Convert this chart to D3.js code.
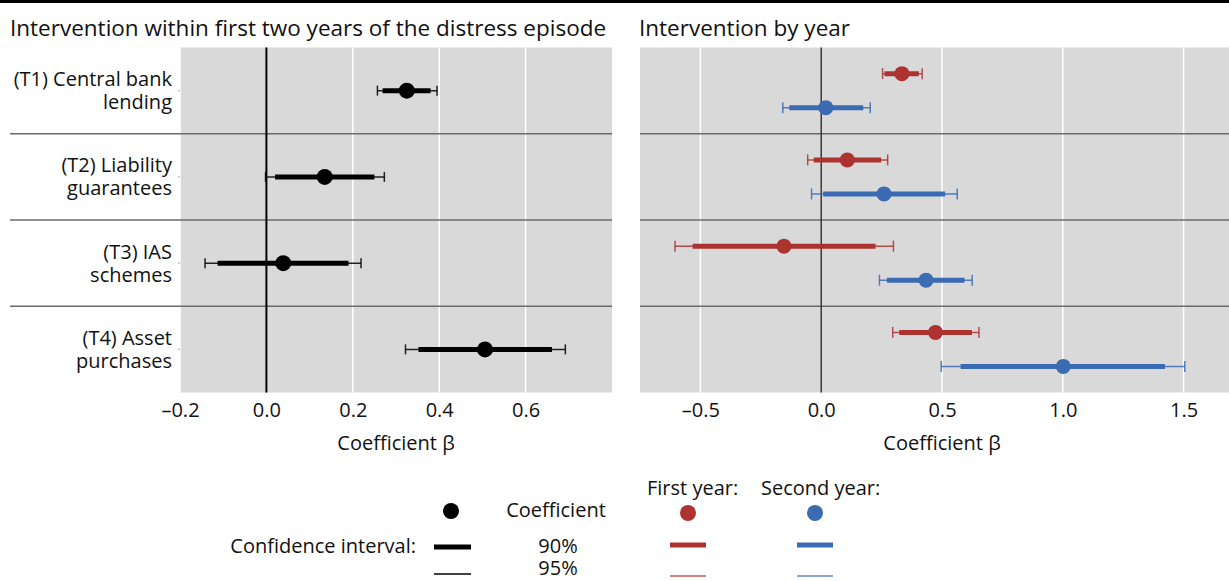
<!DOCTYPE html>
<html>
<head>
<meta charset="utf-8">
<script src="https://cdn.jsdelivr.net/npm/d3@7"></script>
<style>
  html, body { margin: 0; padding: 0; background: #fff; }
  svg { display: block; font-family: "Open Sans", "Noto Sans", sans-serif; }
</style>
</head>
<body>
<svg id="chart" width="1229" height="581"></svg>
<script>
// ---------- DATA ----------
const categories = ["T1", "T2", "T3", "T4"];
const categoryLabels = [
  ["(T1) Central bank", "lending"],
  ["(T2) Liability", "guarantees"],
  ["(T3) IAS", "schemes"],
  ["(T4) Asset", "purchases"]
];
// Left panel: intervention within first two years
const twoYearCoef = [0.325, 0.135, 0.039, 0.506];
const twoYearLo90 = [0.269, 0.020, -0.113, 0.352];
const twoYearHi90 = [0.380, 0.250, 0.190, 0.661];
const twoYearLo95 = [0.257, -0.002, -0.142, 0.322];
const twoYearHi95 = [0.395, 0.273, 0.219, 0.692];
// Right panel: first year
const firstCoef = [0.334, 0.108, -0.154, 0.473];
const firstLo90 = [0.262, -0.031, -0.532, 0.323];
const firstHi90 = [0.404, 0.248, 0.225, 0.624];
const firstLo95 = [0.254, -0.056, -0.605, 0.296];
const firstHi95 = [0.418, 0.275, 0.299, 0.653];
// Right panel: second year
const secondCoef = [0.019, 0.260, 0.434, 1.002];
const secondLo90 = [-0.132, 0.008, 0.272, 0.577];
const secondHi90 = [0.174, 0.513, 0.593, 1.423];
const secondLo95 = [-0.159, -0.040, 0.241, 0.497];
const secondHi95 = [0.203, 0.563, 0.625, 1.505];

const leftTicks = [-0.2, 0, 0.2, 0.4, 0.6];
const rightTicks = [-0.5, 0, 0.5, 1.0, 1.5];

// ---------- STYLE ----------
const RED = "#AD3331";
const BLUE = "#3B6BB2";
const PANEL_BG = "#D9D9D9";
const SEP = "#6b6b6b";
const FS = 20;

const svg = d3.select("#chart");
const plotTop = 47.5, plotBottom = 392.5;

const y = d3.scaleBand().domain(categories).range([plotTop, plotBottom]).padding(0);
const xL = d3.scaleLinear().domain([-0.2, 0.8]).range([180, 612]);
const xR = d3.scaleLinear().domain([-0.75, 1.75]).range([640, 1244]);

// top rule
svg.append("rect").attr("x", 0).attr("y", 0).attr("width", 1229).attr("height", 3).attr("fill", "#000");

// titles
svg.append("text").attr("x", 10).attr("y", 36).attr("font-size", 22.5).attr("fill", "#111")
  .text("Intervention within first two years of the distress episode");
svg.append("text").attr("x", 639).attr("y", 36).attr("font-size", 22.5).attr("fill", "#111")
  .text("Intervention by year");

const fmt = v => (v === 0 ? "0.0" : d3.format(".1f")(v).replace("−", "–").replace("-", "–"));

function panel(x, ticks) {
  const g = svg.append("g");
  const [x0, x1] = x.range();
  g.append("rect").attr("x", x0).attr("y", plotTop).attr("width", x1 - x0).attr("height", plotBottom - plotTop)
    .attr("fill", PANEL_BG);
  g.selectAll("line.grid").data(ticks.filter(t => t !== 0)).join("line")
    .attr("x1", d => x(d)).attr("x2", d => x(d)).attr("y1", plotTop).attr("y2", plotBottom)
    .attr("stroke", "#fff").attr("stroke-width", 1.5);
  const ax = g.append("g").attr("transform", `translate(0,${plotBottom})`)
    .call(d3.axisBottom(x).tickValues(ticks).tickSize(0).tickPadding(10).tickFormat(fmt));
  ax.select(".domain").remove();
  ax.selectAll("text").attr("font-size", FS).attr("fill", "#111").attr("font-family", "Open Sans");
  return g;
}

panel(xL, leftTicks);
panel(xR, rightTicks);

// row separators
const seps = categories.slice(1).map(c => y(c));
svg.selectAll("line.sepL").data(seps).join("line")
  .attr("x1", 10).attr("x2", xL.range()[1]).attr("y1", d => d).attr("y2", d => d)
  .attr("stroke", SEP).attr("stroke-width", 1.5);
svg.selectAll("line.sepR").data(seps).join("line")
  .attr("x1", xR.range()[0]).attr("x2", xR.range()[1]).attr("y1", d => d).attr("y2", d => d)
  .attr("stroke", SEP).attr("stroke-width", 1.5);

// small y ticks
svg.selectAll("line.yt").data(categories).join("line")
  .attr("x1", 178).attr("x2", 180).attr("y1", d => y(d) + y.bandwidth() / 2).attr("y2", d => y(d) + y.bandwidth() / 2)
  .attr("stroke", "#aaa").attr("stroke-width", 1);

// zero lines
svg.append("line").attr("x1", xL(0)).attr("x2", xL(0)).attr("y1", plotTop).attr("y2", plotBottom)
  .attr("stroke", "#000").attr("stroke-width", 2);
svg.append("line").attr("x1", xR(0)).attr("x2", xR(0)).attr("y1", plotTop).attr("y2", plotBottom)
  .attr("stroke", "#222").attr("stroke-width", 1.3);

// row labels
const lab = svg.selectAll("text.rowlab").data(categories).join("text")
  .attr("text-anchor", "end").attr("font-size", FS).attr("fill", "#111");
lab.each(function(d, i) {
  const cy = y(d) + y.bandwidth() / 2;
  const t = d3.select(this);
  categoryLabels[i].forEach((line, k) => {
    t.append("tspan").attr("x", 172).attr("y", cy + (k === 0 ? -11.5 : 11.5)).attr("dy", "0.35em").text(line);
  });
});

// axis titles
svg.append("text").attr("x", (xL.range()[0] + xL.range()[1]) / 2).attr("y", 443).attr("dy", "0.35em").attr("text-anchor", "middle")
  .attr("font-size", FS).attr("fill", "#111").text("Coefficient β");
svg.append("text").attr("x", (xR.range()[0] + xR.range()[1]) / 2).attr("y", 443).attr("dy", "0.35em").attr("text-anchor", "middle")
  .attr("font-size", FS).attr("fill", "#111").text("Coefficient β");

// ---------- MARKS ----------
function drawSeries(x, coef, lo90, hi90, lo95, hi95, offset, color, r, thick, capH) {
  const rows = categories.map((c, i) => ({
    c, coef: coef[i], lo90: lo90[i], hi90: hi90[i], lo95: lo95[i], hi95: hi95[i],
    cy: y(c) + y.bandwidth() / 2 + offset
  }));
  const g = svg.append("g");
  g.selectAll("line.ci95").data(rows).join("line")
    .attr("x1", d => x(d.lo95)).attr("x2", d => x(d.hi95)).attr("y1", d => d.cy).attr("y2", d => d.cy)
    .attr("stroke", color).attr("stroke-width", 1.5).attr("stroke-opacity", 0.85);
  g.selectAll("line.capL").data(rows).join("line")
    .attr("x1", d => x(d.lo95)).attr("x2", d => x(d.lo95)).attr("y1", d => d.cy - capH).attr("y2", d => d.cy + capH)
    .attr("stroke", color).attr("stroke-width", 1.5).attr("stroke-opacity", 0.85);
  g.selectAll("line.capR").data(rows).join("line")
    .attr("x1", d => x(d.hi95)).attr("x2", d => x(d.hi95)).attr("y1", d => d.cy - capH).attr("y2", d => d.cy + capH)
    .attr("stroke", color).attr("stroke-width", 1.5).attr("stroke-opacity", 0.85);
  g.selectAll("line.ci90").data(rows).join("line")
    .attr("x1", d => x(d.lo90)).attr("x2", d => x(d.hi90)).attr("y1", d => d.cy).attr("y2", d => d.cy)
    .attr("stroke", color).attr("stroke-width", thick);
  g.selectAll("circle").data(rows).join("circle")
    .attr("cx", d => x(d.coef)).attr("cy", d => d.cy).attr("r", r).attr("fill", color);
}

drawSeries(xL, twoYearCoef, twoYearLo90, twoYearHi90, twoYearLo95, twoYearHi95, 0, "#000", 8, 5, 5);
drawSeries(xR, firstCoef, firstLo90, firstHi90, firstLo95, firstHi95, -17, RED, 7.5, 5, 5.5);
drawSeries(xR, secondCoef, secondLo90, secondHi90, secondLo95, secondHi95, 17, BLUE, 7.5, 5, 5.5);

// ---------- LEGEND ----------
const lg = svg.append("g").attr("font-size", FS).attr("fill", "#111");
lg.append("circle").attr("cx", 451).attr("cy", 511).attr("r", 8).attr("fill", "#000");
lg.append("text").attr("x", 556).attr("y", 510).attr("dy", "0.35em").attr("text-anchor", "middle").text("Coefficient");
lg.append("text").attr("x", 416).attr("y", 546).attr("dy", "0.35em").attr("text-anchor", "end").text("Confidence interval:");
lg.append("line").attr("x1", 434).attr("x2", 471).attr("y1", 547).attr("y2", 547).attr("stroke", "#000").attr("stroke-width", 5);
lg.append("text").attr("x", 558).attr("y", 546).attr("dy", "0.35em").attr("text-anchor", "middle").text("90%");
lg.append("line").attr("x1", 434).attr("x2", 471).attr("y1", 574).attr("y2", 574).attr("stroke", "#000").attr("stroke-width", 1.3);
lg.append("text").attr("x", 558).attr("y", 568).attr("dy", "0.35em").attr("text-anchor", "middle").text("95%");

lg.append("text").attr("x", 647).attr("y", 488).attr("dy", "0.35em").text("First year:");
lg.append("text").attr("x", 761).attr("y", 488).attr("dy", "0.35em").text("Second year:");
[[RED, 688], [BLUE, 815]].forEach(([c, cx]) => {
  lg.append("circle").attr("cx", cx).attr("cy", 513).attr("r", 8).attr("fill", c);
  lg.append("line").attr("x1", cx - 18).attr("x2", cx + 18).attr("y1", 545).attr("y2", 545).attr("stroke", c).attr("stroke-width", 5);
  lg.append("line").attr("x1", cx - 18).attr("x2", cx + 18).attr("y1", 576).attr("y2", 576).attr("stroke", c).attr("stroke-width", 1.5).attr("stroke-opacity", 0.8);
});
</script>
</body>
</html>
